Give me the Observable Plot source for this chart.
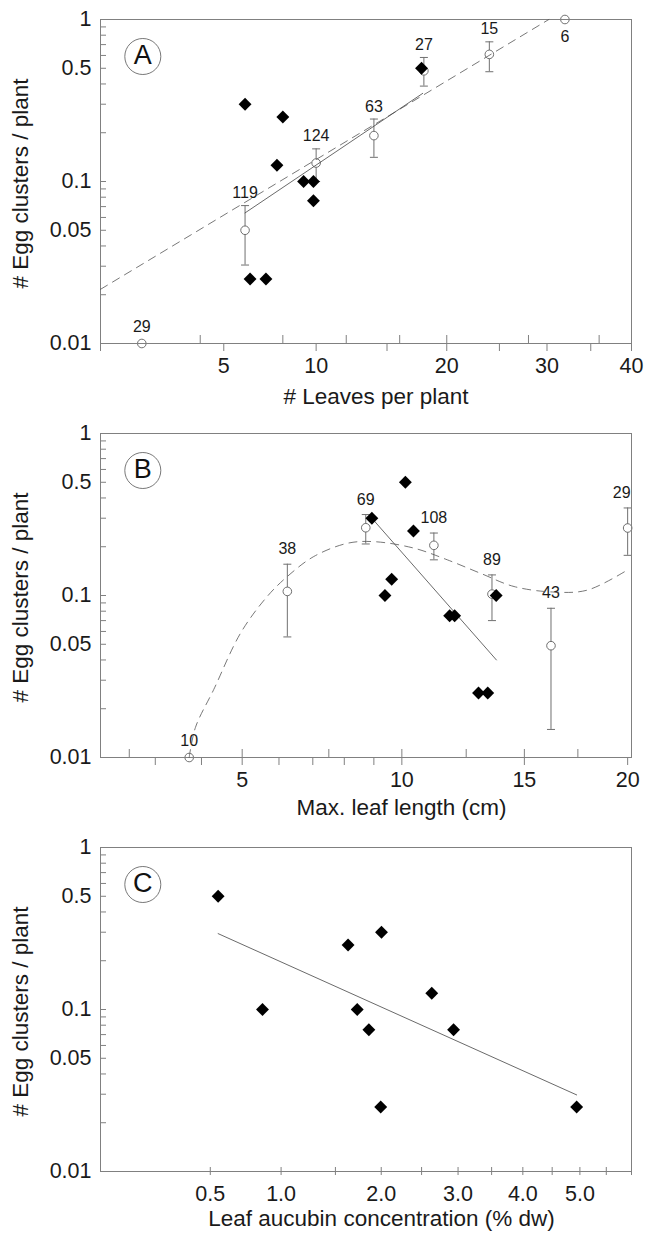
<!DOCTYPE html>
<html><head><meta charset="utf-8">
<script src="https://cdn.jsdelivr.net/npm/d3@7"></script>
<script src="https://cdn.jsdelivr.net/npm/@observablehq/plot@0.6"></script>
<style>
body{margin:0;background:#fff;}
#chart{width:646px;}
#chart svg{display:block;}
</style></head><body><div id="chart"></div>
<script>
// ---------- shared y axis ----------
const yTitle = "# Egg clusters / plant";
const yLabelTicks = [0.01, 0.05, 0.1, 0.5, 1];
const yMinorTicks = [0.02,0.03,0.04,0.05,0.06,0.07,0.08,0.09,0.1,0.2,0.3,0.4,0.5,0.6,0.7,0.8,0.9];

// ---------- Panel A: # leaves per plant ----------
const aMeanX  = [2, 6, 10, 14, 18, 24, 32];
const aMeanY  = [0.01, 0.05, 0.13, 0.192, 0.482, 0.609, 1];
const aMeanLo = [null, 0.0305, 0.1, 0.141, 0.388, 0.476, null];
const aMeanHi = [null, 0.071, 0.159, 0.243, 0.583, 0.728, null];
const aMeanN  = [29, 119, 124, 63, 27, 15, 6];
const aSiteX  = [6, 8, 7.67, 9.22, 9.83, 9.83, 6.25, 7.07, 17.8];
const aSiteY  = [0.3, 0.25, 0.126, 0.1, 0.1, 0.076, 0.025, 0.025, 0.5];
const aSolidX = [6, 17.9];
const aSolidY = [0.064, 0.35];
const aDashX  = [1, 30.2];
const aDashY  = [0.0216, 1];
const aXLabels = [5, 10, 20, 30, 40];
const aXTicksOut = [1, 5, 10, 15, 20, 25, 30, 35, 40];
const aXTicksIn  = [4, 8, 12, 16, 20, 28, 36];

// ---------- Panel B: max. leaf length ----------
const bMeanX  = [3.72, 6.24, 8.72, 11.21, 13.58, 16.22, 20.0];
const bMeanY  = [0.01, 0.106, 0.262, 0.204, 0.102, 0.049, 0.261];
const bMeanLo = [null, 0.0555, 0.208, 0.166, 0.070, 0.0149, 0.177];
const bMeanHi = [null, 0.156, 0.316, 0.243, 0.134, 0.0834, 0.347];
const bMeanN  = [10, 38, 69, 108, 89, 43, 29];
const bSiteX  = [8.93, 10.13, 10.43, 9.63, 9.39, 11.83, 12.03, 13.01, 13.40, 13.76];
const bSiteY  = [0.30, 0.5, 0.25, 0.126, 0.1, 0.075, 0.075, 0.025, 0.025, 0.1];
const bSolidX = [8.93, 13.77];
const bSolidY = [0.30, 0.040];
const bCurveX = [3.72, 3.86, 4.29, 4.96, 5.67, 6.24, 7.03, 8.10, 9.0, 10.45, 11.74, 13.10, 14.54, 16.37, 17.97, 20.0];
const bCurveY = [0.01, 0.0153, 0.0263, 0.0587, 0.0986, 0.131, 0.174, 0.210, 0.215, 0.196, 0.166, 0.137, 0.1136, 0.105, 0.108, 0.144];
const bXLabels = [5, 10, 15, 20];
const bXTicksOut = [3, 4, 5, 6, 7, 8, 9, 10, 15, 20];
const bXTicksIn  = [2.5, 5, 7.5, 10, 12.5, 15, 17.5];

// ---------- Panel C: leaf aucubin ----------
const cSiteX  = [0.547, 0.852, 1.631, 2.003, 1.729, 1.858, 1.994, 2.635, 2.936, 4.94];
const cSiteY  = [0.5, 0.1, 0.25, 0.3, 0.1, 0.075, 0.025, 0.126, 0.075, 0.025];
const cSolidX = [0.547, 4.94];
const cSolidY = [0.294, 0.0297];
const cXLabels = [0.5, 1, 2, 3, 4, 5];
const cXTicks  = [0.5, 1, 1.5, 2, 2.5, 3, 3.5, 4, 4.5, 5, 5.5, 6];

// ---------- helpers ----------
const FONT = "'Liberation Sans', Arial, Helvetica, sans-serif";
const AX = "#808080";
const pts = (xs, ys) => xs.map((x, i) => ({x, y: ys[i]}));
const means = (X, Y, Lo, Hi, N) => X.map((x, i) => ({x, y: Y[i], lo: Lo[i], hi: Hi[i], n: N[i]}));
const cap = {draw(ctx, size) { const r = Math.sqrt(size / Math.PI); ctx.moveTo(-r, 0); ctx.lineTo(r, 0); }};
const PW = 531, PH = 324;

function meanMarks(m, labelDy, lastDx = 0) {
  const bars = m.filter(d => d.hi != null);
  const plain = m.filter(d => d.hi == null && d.y < 1);
  const top = m.filter(d => d.hi == null && d.y >= 1);
  const t = {x: "x", text: "n", fontSize: 16, textAnchor: "middle", lineAnchor: "middle"};
  return [
    Plot.ruleX(bars, {x: "x", y1: "lo", y2: "hi", stroke: "#707070", strokeWidth: 1}),
    Plot.dot(bars, {x: "x", y: "hi", symbol: cap, r: 4, stroke: "#707070", strokeWidth: 1}),
    Plot.dot(bars, {x: "x", y: "lo", symbol: cap, r: 4, stroke: "#707070", strokeWidth: 1}),
    Plot.dot(m, {x: "x", y: "y", r: 4.3, fill: "white", stroke: "#606060", strokeWidth: 0.9}),
    Plot.text(bars.filter(d => d.x < 19.9), {...t, y: "hi", dy: labelDy}),
    Plot.text(bars.filter(d => d.x >= 19.9), {...t, y: "hi", dy: labelDy, dx: lastDx}),
    Plot.text(plain, {...t, y: "y", dy: -17}),
    Plot.text(top, {...t, y: "y", dy: 17})
  ];
}

function panel(cfg) {
  const marks = [
    Plot.tickY(yMinorTicks, {y: d => d, insetRight: PW - 6, stroke: AX}),
    Plot.axisY({ticks: yLabelTicks, tickSize: 0, tickPadding: 9, tickFormat: d => String(d), fontSize: 21.5, label: null}),
    cfg.ticksOut ? Plot.axisX({ticks: cfg.ticksOut, tickSize: cfg.tickLen, fill: "none", stroke: AX, label: null}) : null,
    cfg.ticksIn ? Plot.tickX(cfg.ticksIn, {x: d => d, insetTop: PH - cfg.tickLen, stroke: AX}) : null,
    Plot.axisX({ticks: cfg.xLabels, tickSize: 0, tickPadding: 14, tickFormat: cfg.xFmt, fontSize: 21.5, label: null}),
    Plot.text([cfg.xTitle], {frameAnchor: "bottom", textAnchor: "middle", lineAnchor: "middle", dx: cfg.titleDx, dy: cfg.titleDy, fontSize: 22.5}),
    Plot.text([yTitle], {frameAnchor: "left", textAnchor: "middle", lineAnchor: "middle", rotate: -90, dx: -79.5, dy: 2, fontSize: 22.5}),
    Plot.dot([cfg.letter], {frameAnchor: "top-left", dx: 42.3, dy: 37, r: 18, fill: "none", stroke: "#555", strokeWidth: 0.8}),
    Plot.text([cfg.letter], {frameAnchor: "top-left", textAnchor: "middle", lineAnchor: "middle", dx: 42.3, dy: 36, fontSize: 27, fill: "#111"}),
    ...cfg.under,
    Plot.frame({stroke: AX}),
    ...cfg.over
  ];
  return Plot.plot({
    width: 646, height: cfg.height,
    marginLeft: 100, marginRight: 15, marginTop: 19, marginBottom: cfg.height - 19 - PH,
    style: {fontFamily: FONT, color: "#1a1a1a", background: "#fff", overflow: "visible"},
    x: {type: "sqrt", domain: cfg.xDomain},
    y: {type: "log", domain: [0.01, 1]},
    marks
  });
}

const aMeans = means(aMeanX, aMeanY, aMeanLo, aMeanHi, aMeanN);
const bMeans = means(bMeanX, bMeanY, bMeanLo, bMeanHi, bMeanN);

const A = panel({
  letter: "A", height: 414, xDomain: [1, 40],
  xLabels: aXLabels, xFmt: d => String(d), ticksOut: aXTicksOut, ticksIn: aXTicksIn, tickLen: 8,
  xTitle: "# Leaves per plant", titleDx: 10, titleDy: 53.6,
  under: meanMarks(aMeans, -12.5),
  over: [
    Plot.line(pts(aDashX, aDashY), {x: "x", y: "y", stroke: "#555", strokeWidth: 0.8, strokeDasharray: "8,6"}),
    Plot.line(pts(aSolidX, aSolidY), {x: "x", y: "y", stroke: "#444", strokeWidth: 0.8}),
    Plot.dot(pts(aSiteX, aSiteY), {x: "x", y: "y", symbol: "diamond2", r: 5.8, fill: "#000"})
  ]
});

const B = panel({
  letter: "B", height: 414, xDomain: [2, 20.2],
  xLabels: bXLabels, xFmt: d => String(d), ticksOut: bXTicksOut, ticksIn: bXTicksIn, tickLen: 8,
  xTitle: "Max. leaf length (cm)", titleDx: 35.5, titleDy: 50.5,
  under: meanMarks(bMeans, -15, -6),
  over: [
    Plot.line(pts(bCurveX, bCurveY), {x: "x", y: "y", curve: "catmull-rom", stroke: "#555", strokeWidth: 0.8, strokeDasharray: "8,6"}),
    Plot.line(pts(bSolidX, bSolidY), {x: "x", y: "y", stroke: "#444", strokeWidth: 0.8}),
    Plot.dot(pts(bSiteX, bSiteY), {x: "x", y: "y", symbol: "diamond2", r: 5.8, fill: "#000"})
  ]
});

const C = panel({
  letter: "C", height: 405, xDomain: [0.064, 6],
  xLabels: cXLabels, xFmt: d => d.toFixed(1), ticksOut: cXTicks, ticksIn: cXTicks, tickLen: 4,
  xTitle: "Leaf aucubin concentration (% dw)", titleDx: 15.5, titleDy: 47.1,
  under: [],
  over: [
    Plot.line(pts(cSolidX, cSolidY), {x: "x", y: "y", stroke: "#444", strokeWidth: 0.8}),
    Plot.dot(pts(cSiteX, cSiteY), {x: "x", y: "y", symbol: "diamond2", r: 5.8, fill: "#000"})
  ]
});

const root = document.getElementById("chart");
root.append(A, B, C);
</script>
</body></html>
